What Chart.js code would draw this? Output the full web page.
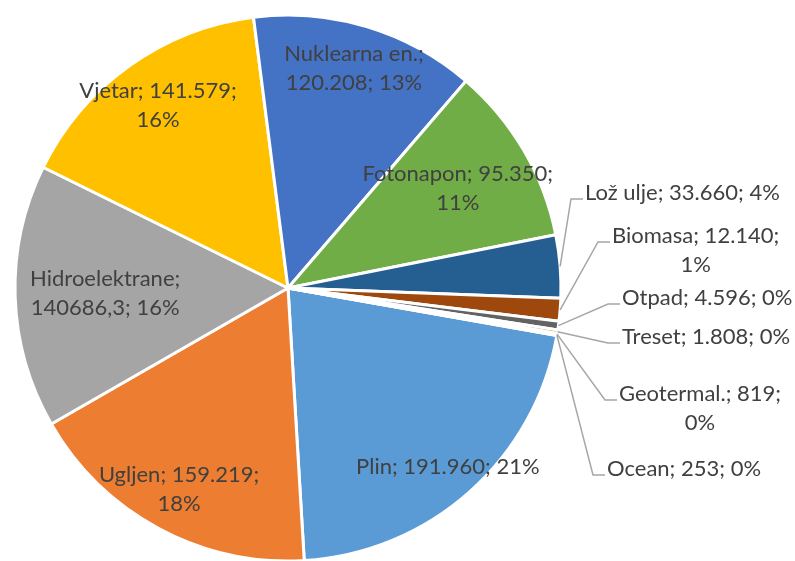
<!DOCTYPE html>
<html>
<head>
<meta charset="utf-8">
<script src="https://cdn.jsdelivr.net/npm/chart.js@4.4.1/dist/chart.umd.min.js"></script>
<style>
    html, body { margin: 0; padding: 0; background: #ffffff; }
    .chart_box { position: relative; width: 795px; height: 561px; }
</style>
</head>
<body>
<div class="chart_box"><canvas id="energy_chart"></canvas></div>
<script>
"use strict";
// Data
const categories = ["Plin", "Ugljen", "Hidroelektrane", "Vjetar", "Nuklearna en.", "Fotonapon", "Lož ulje", "Biomasa", "Otpad", "Treset", "Geotermal.", "Ocean"];
const values = [191960, 159219, 140686.3, 141579, 120208, 95350, 33660, 12140, 4596, 1808, 819, 253];
const percent_labels = ["21%", "18%", "16%", "16%", "13%", "11%", "4%", "1%", "0%", "0%", "0%", "0%"];
const slice_colors = ["#5B9BD5", "#ED7D31", "#A5A5A5", "#FFC000", "#4472C4", "#70AD47", "#255E91", "#9E480E", "#636363", "#997300", "#264478", "#43682B"];

// Label Layout (inside labels: fraction of radius, outside labels: leader elbow relative to centre)
const inside_radius = [0.88, 0.84, 0.67, 0.82, 0.84, 0.72, null, null, null, null, null, null];
const leader_elbows = [null, null, null, null, null, null, [283, -89], [310, -46], [320, 16], [320, 55], [317, 112], [305, 187]];
const wrap_after = [0, 2, 1, 2, 1, 2, 0, 2, 0, 0, 2, 0]; // 0 = one line, else parts on first line

const label_font = "22px Lato";
const label_color = "#404040";
const line_height = 29;

function formatValue(value) {
    if (Number.isInteger(value)) {
        return value.toString().replace(/\B(?=(\d{3})+(?!\d))/g, ".");
    }
    return value.toString().replace(".", ",");
}

function labelLines(index) {
    const parts = [categories[index] + ";", formatValue(values[index]) + ";", percent_labels[index]];
    const split = wrap_after[index];
    if (split === 0) return [parts.join(" ")];
    return [parts.slice(0, split).join(" "), parts.slice(split).join(" ")];
}

// Data Labels Plugin
const pie_labels = {
    id: "pieLabels",
    afterDatasetsDraw(chart) {
        const { ctx } = chart;
        const meta = chart.getDatasetMeta(0);
        ctx.save();
        ctx.font = label_font;
        ctx.fillStyle = label_color;
        ctx.textBaseline = "middle";
        ctx.textAlign = "center";
        meta.data.forEach(function (arc, index) {
            const p = arc.getProps(["x", "y", "startAngle", "endAngle", "outerRadius"], true);
            const mid = (p.startAngle + p.endAngle) / 2;
            const lines = labelLines(index);
            if (inside_radius[index] !== null) {
                const r = inside_radius[index] * p.outerRadius;
                const cx = p.x + Math.cos(mid) * r;
                const cy = p.y + Math.sin(mid) * r;
                const top = cy - (lines.length - 1) * line_height / 2;
                lines.forEach(function (line, n) {
                    ctx.fillText(line, cx, top + n * line_height);
                });
            } else {
                const sx = p.x + Math.cos(mid) * p.outerRadius;
                const sy = p.y + Math.sin(mid) * p.outerRadius;
                const ex = p.x + leader_elbows[index][0];
                const ey = p.y + leader_elbows[index][1];
                ctx.strokeStyle = "#A6A6A6";
                ctx.lineWidth = 1.5;
                ctx.beginPath();
                ctx.moveTo(sx, sy);
                ctx.lineTo(ex, ey);
                ctx.lineTo(ex + 12, ey);
                ctx.stroke();
                const width = Math.max.apply(null, lines.map(function (line) { return ctx.measureText(line).width; }));
                const cx = ex + 14 + width / 2;
                lines.forEach(function (line, n) {
                    ctx.fillText(line, cx, ey - 6 + n * line_height);
                });
            }
        });
        ctx.restore();
    }
};

const energy_chart = document.querySelector("#energy_chart");
new Chart(energy_chart, {
    type: "pie",
    data: {
        labels: categories,
        datasets: [{
            data: values,
            backgroundColor: slice_colors,
            borderColor: "#ffffff",
            borderWidth: 3,
        }]
    },
    options: {
        responsive: true,
        maintainAspectRatio: false,
        animation: false,
        rotation: 100,
        radius: 273,
        layout: {
            padding: { left: 15, right: 234, top: 15, bottom: 0 }
        },
        plugins: {
            legend: { display: false },
            tooltip: { enabled: false },
        },
    },
    plugins: [pie_labels],
});
</script>
</body>
</html>
